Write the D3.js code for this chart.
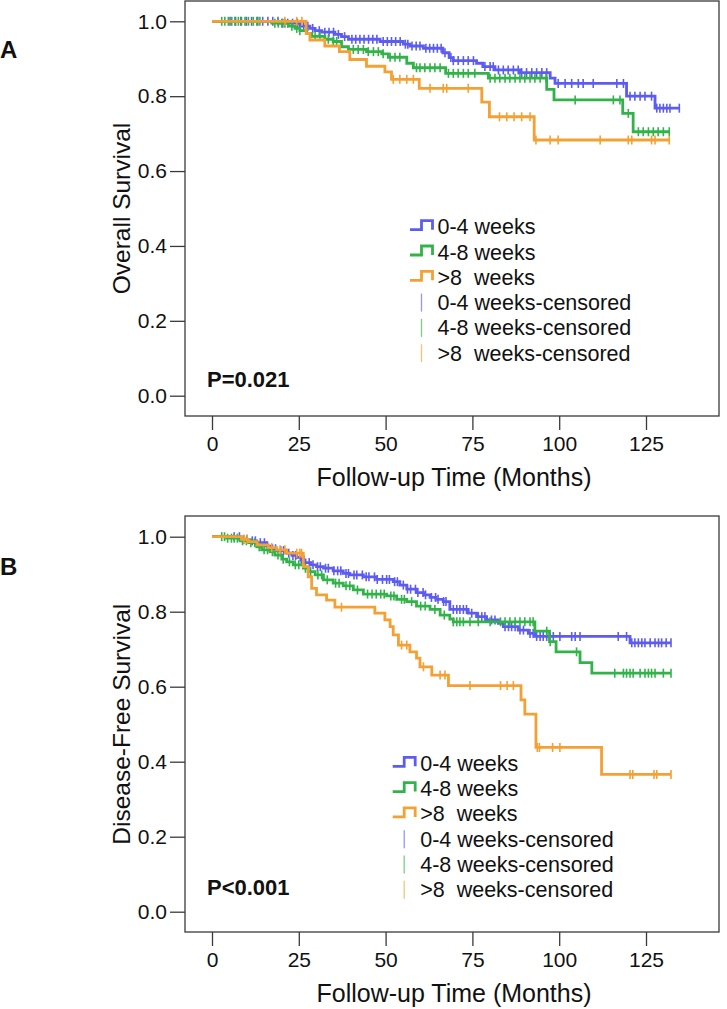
<!DOCTYPE html>
<html>
<head>
<meta charset="utf-8">
<script src="https://cdn.jsdelivr.net/npm/d3@7"></script>
<style>
  html, body { margin: 0; padding: 0; background: #fff; }
  svg { display: block; }
  text { font-family: "Liberation Sans", Arial, Helvetica, sans-serif; fill: #111; white-space: pre; }
</style>
</head>
<body>
<svg id="chart" width="727" height="1009"></svg>
<script>
// ---------------- DATA ----------------
const groups = ["0-4 weeks", "4-8 weeks", ">8  weeks"];
const censorLabels = ["0-4 weeks-censored", "4-8 weeks-censored", ">8  weeks-censored"];
const xTicks = [0, 25, 50, 75, 100, 125];
const yTicks = [0.0, 0.2, 0.4, 0.6, 0.8, 1.0];

// Panel A: Overall Survival — step points [month, survival]
const osBlue = [[0,1],[19.6,0.995],[25.3,0.987],[28.2,0.981],[29.7,0.975],[31.6,0.971],[35.4,0.965],[37.3,0.959],[39.3,0.952],[48.4,0.946],[55.1,0.939],[57,0.934],[60.9,0.928],[66.5,0.916],[68.3,0.903],[69.5,0.895],[76.2,0.888],[78,0.879],[81.5,0.870],[88.7,0.863],[97.4,0.848],[98.8,0.834],[119.4,0.800],[127.6,0.768]];
const osGreen = [[0,1],[17.2,0.995],[22,0.987],[23.9,0.981],[25.3,0.975],[27.3,0.968],[28.7,0.960],[32.5,0.952],[34.9,0.946],[37.3,0.932],[39.3,0.925],[44.5,0.919],[48.9,0.913],[50.8,0.904],[56.1,0.888],[58,0.876],[67.3,0.861],[79.6,0.848],[96.4,0.818],[98.5,0.790],[118.3,0.754],[121.3,0.705]];
const osOrange = [[0,1],[27.1,0.968],[28.2,0.950],[32.5,0.934],[36.7,0.919],[39.7,0.898],[44.5,0.880],[49.8,0.865],[51.7,0.845],[59.7,0.821],[77.7,0.784],[79.9,0.745],[92.8,0.683]];
const osEnd = [134.6, 131.7, 131.7];
const osBlueCens = [5.2,6.8,8.3,9.9,11.4,13.2,14.6,16.1,17.5,19,20.4,21.8,23.2,24.6,26.4,27.6,29,30.9,32.5,33.7,35,36.4,38.2,40.3,41.4,42.6,43.8,45.1,46.3,47.5,49.3,50.5,51.7,52.9,54.2,55.7,56.4,57.6,58.8,59.9,61.6,62.7,63.8,64.9,66,67.1,68.8,69.5,70.9,72.4,73.8,75.3,78.6,80.1,81,82.5,83.9,85.3,86.8,88.2,89.2,90.6,92.1,93.5,95,96.4,99.7,101.7,103.6,105.5,106.9,109.8,116.6,118.5,120.4,121.8,123.3,124.7,126.6,128.1,129,130,131,131.9,134.6];
const osGreenCens = [2.8,3.7,4.7,5.7,6.6,7.6,8.5,9.5,10.5,11.9,12.9,13.8,18.1,19.1,20.1,21,23,24.4,25.3,29.7,31.1,33.5,34.9,35.9,40.7,42.1,43.6,45,46.5,47.9,49.3,51.3,52.7,54.1,58.9,59.9,61.3,62.8,64.2,65.7,68.1,69.5,70.9,72.4,73.8,75.7,80.1,81.5,82.9,84.4,85.8,87.3,88.7,90.1,91.6,93,94.5,96.2,104.6,115.6,117.5,119.9,122.8,124.2,125.7,127.1,128.5,130,131.7];
const osOrangeCens = [21,24.4,25.9,52.2,54.1,56.1,58,62.8,66.6,67.6,73.8,82.8,84.9,87,89.2,91.6,93.3,97.4,99.7,111.8,119.9,120.9,126.6,127.6,131.7];

// Panel B: Disease-Free Survival
const dfsBlue = [[0,1],[8.1,0.993],[10.5,0.989],[12.9,0.984],[15.7,0.975],[17.2,0.968],[18.6,0.963],[21.5,0.956],[23,0.950],[24.4,0.945],[25.6,0.938],[26.8,0.931],[28.5,0.925],[30.1,0.920],[32.1,0.916],[34.9,0.909],[37.8,0.902],[39.7,0.898],[43.6,0.893],[47.4,0.886],[52.2,0.880],[54.1,0.871],[56.1,0.860],[58.9,0.851],[61,0.845],[62.8,0.838],[64.5,0.833],[66.6,0.827],[68.5,0.806],[73.8,0.796],[76.2,0.787],[79.1,0.778],[82.5,0.769],[83.9,0.760],[88.2,0.751],[91.1,0.742],[93,0.734],[120.4,0.717]];
const dfsGreen = [[0,1],[4.2,0.996],[8.1,0.989],[10.5,0.984],[12.9,0.973],[14.3,0.965],[16.7,0.960],[18.1,0.951],[20.1,0.940],[21.5,0.933],[23.4,0.925],[26.3,0.916],[27.7,0.907],[29.7,0.898],[32.1,0.885],[34.9,0.876],[37.8,0.869],[40.7,0.858],[43.6,0.847],[50.3,0.842],[53.2,0.833],[56.1,0.827],[58.9,0.815],[62.8,0.806],[65.7,0.791],[68.5,0.780],[69.5,0.773],[93,0.748],[97.2,0.720],[99.1,0.693],[106,0.664],[109.4,0.636]];
const dfsOrange = [[0,1],[8.5,0.993],[10.5,0.987],[13,0.978],[16.2,0.971],[18.6,0.965],[21.5,0.956],[26.3,0.920],[27.7,0.893],[28.7,0.862],[30.1,0.845],[33,0.831],[35.4,0.812],[46.9,0.796],[49.8,0.778],[51.3,0.760],[52.2,0.738],[53.7,0.711],[57,0.693],[58.9,0.676],[59.9,0.653],[63.3,0.631],[68.1,0.603],[89,0.565],[90.1,0.527],[93.3,0.438],[112.2,0.366]];
const dfsEnd = [132.2, 132.2, 132.2];
const dfsBlueCens = [6.4,7.9,9.1,10.1,11.6,12.5,13.9,15.1,16,17.4,18.3,19.8,20.6,22.1,23.3,24.1,25.7,26.5,28,29.1,30.4,31.2,32.7,33.5,35.1,36.2,37.1,38.6,39.3,40.9,41.7,43.3,44.4,45.2,46.8,47.6,49.1,50.3,51.1,52.6,53.4,55.1,56.3,57.2,58.6,59.3,60.8,61.5,63.2,64.4,65.1,66.7,67.4,69.5,70.5,71.4,72.4,73.3,74.8,76.7,77.7,78.6,80.5,81.5,84.4,85.4,86.3,87.3,88.7,89.7,91.6,92.5,93.5,94.5,95.4,96.4,97.4,98.3,100.2,103.6,104.6,106,117,119.4,120.9,121.8,122.8,123.8,124.7,126.2,127.6,128.6,129.5,130.8,132.2];
const dfsGreenCens = [2.8,3.6,4.5,5.6,6.4,7.3,8.8,9.9,11.2,12.3,13.6,15,16,17.4,19,20.5,22.3,24,25,26.9,28.4,30.5,31.6,33.2,35.6,36.6,38.6,39.7,41.9,44.8,46.1,47.3,48.6,49.6,51.5,52.4,54.6,55.4,57.5,60.1,61.4,64.2,66.9,69.5,70.5,71.4,72.4,74.3,76.7,80.1,83.1,84.4,85.8,87.3,88.7,90.1,91.6,92.5,96.4,97.4,105,116,118.5,119.4,120.4,121.3,123.3,124.7,125.7,126.6,127.6,130,132.2];
const dfsOrangeCens = [9.2,10.1,17.2,19.6,21,24.4,25.3,25.8,37.3,54.6,56.1,60.9,65.7,67.1,74.3,83.1,85,86.8,93.7,94.3,98.1,100.2,120.4,121.2,127.3,128.1,132.2];

const colors = ["#5c5cf2", "#32b34a", "#f5a033"];

// ---------------- DRAW ----------------
const svg = d3.select("#chart");

function stepValue(steps, t) {
  let v = steps[0][1];
  for (const [st, sv] of steps) { if (st <= t + 1e-9) v = sv; else break; }
  return v;
}

function panel(cfg) {
  const g = svg.append("g");
  const x = d3.scaleLinear().domain([0, 125]).range([212, 646]);
  const y = d3.scaleLinear().domain([0, 1]).range([cfg.y0, cfg.y1]);
  const fl = 185, fr = 719;

  // frame
  g.append("rect").attr("x", fl).attr("y", cfg.top).attr("width", fr - fl).attr("height", cfg.bottom - cfg.top)
    .attr("fill", "none").attr("stroke", "#3a3a3a").attr("stroke-width", 1.3);

  // y axis
  const yAxis = d3.axisLeft(y).tickValues(yTicks).tickFormat(d3.format(".1f")).tickSize(15).tickPadding(3);
  const ya = g.append("g").attr("transform", `translate(${fl},0)`).call(yAxis);
  ya.select(".domain").remove();
  ya.selectAll(".tick line").attr("stroke", "#3a3a3a").attr("stroke-width", 1.3);
  ya.selectAll(".tick text").attr("font-size", 21).attr("font-family", "Liberation Sans, Arial, sans-serif").attr("fill", "#111");

  // x axis
  const xAxis = d3.axisBottom(x).tickValues(xTicks).tickFormat(d3.format("d")).tickSize(14).tickPadding(6);
  const xa = g.append("g").attr("transform", `translate(0,${cfg.bottom})`).call(xAxis);
  xa.select(".domain").remove();
  xa.selectAll(".tick line").attr("stroke", "#3a3a3a").attr("stroke-width", 1.3);
  xa.selectAll(".tick text").attr("font-size", 21).attr("font-family", "Liberation Sans, Arial, sans-serif").attr("fill", "#111");

  // titles
  g.append("text").attr("x", 454).attr("y", cfg.bottom + 70).attr("text-anchor", "middle")
    .attr("font-size", 25).text("Follow-up Time (Months)");
  g.append("text").attr("transform", `translate(130,${(cfg.y0 + cfg.y1) / 2}) rotate(-90)`)
    .attr("text-anchor", "middle").attr("font-size", 24.5).text(cfg.ytitle);
  g.append("text").attr("x", 0).attr("y", cfg.letterY).attr("font-size", 24).attr("font-weight", "bold").text(cfg.letter);
  g.append("text").attr("x", 207).attr("y", cfg.pY).attr("font-size", 22).attr("font-weight", "bold").text(cfg.p);

  // curves
  const line = d3.line().x(d => x(d[0])).y(d => y(d[1])).curve(d3.curveStepAfter);
  cfg.series.forEach((steps, i) => {
    const pts = steps.concat([[cfg.ends[i], steps[steps.length - 1][1]]]);
    g.append("path").attr("d", line(pts)).attr("fill", "none").attr("stroke", colors[i])
      .attr("stroke-width", 2.8).attr("stroke-linejoin", "miter");
    g.append("g").selectAll("line").data(cfg.cens[i]).join("line")
      .attr("x1", d => x(d)).attr("x2", d => x(d))
      .attr("y1", d => y(stepValue(steps, d)) - 4.5).attr("y2", d => y(stepValue(steps, d)) + 4.5)
      .attr("stroke", colors[i]).attr("stroke-width", 1.6);
  });

  // legend
  const L = cfg.legend;
  groups.forEach((name, i) => {
    const cy = L.y + i * 25.3;
    g.append("path").attr("d", `M${L.x},${cy + 3}H${L.x + 11.5}V${cy - 6}H${L.x + 22.5}V${cy + 3}`)
      .attr("fill", "none").attr("stroke", colors[i]).attr("stroke-width", 2.8);
    g.append("text").attr("x", L.x + 27.5).attr("y", cy + 7.5).attr("font-size", 21.5).text(name);
  });
  censorLabels.forEach((name, i) => {
    const cy = L.y + (i + 3) * 25.3;
    g.append("line").attr("x1", L.x + 11.5).attr("x2", L.x + 11.5).attr("y1", cy - 9).attr("y2", cy + 9)
      .attr("stroke", colors[i]).attr("stroke-opacity", 0.65).attr("stroke-width", 1.3);
    g.append("text").attr("x", L.x + 27.5).attr("y", cy + 7.5).attr("font-size", 21.5).text(name);
  });
}

panel({
  top: 1, bottom: 416, y0: 395.7, y1: 21.3,
  ytitle: "Overall Survival", letter: "A", letterY: 58, p: "P=0.021", pY: 387,
  series: [osBlue, osGreen, osOrange], ends: osEnd, cens: [osBlueCens, osGreenCens, osOrangeCens],
  legend: { x: 410, y: 226.7 }
});
panel({
  top: 516, bottom: 932, y0: 911.7, y1: 536.7,
  ytitle: "Disease-Free Survival", letter: "B", letterY: 575, p: "P<0.001", pY: 895,
  series: [dfsBlue, dfsGreen, dfsOrange], ends: dfsEnd, cens: [dfsBlueCens, dfsGreenCens, dfsOrangeCens],
  legend: { x: 392.7, y: 763.3 }
});
</script>
</body>
</html>
